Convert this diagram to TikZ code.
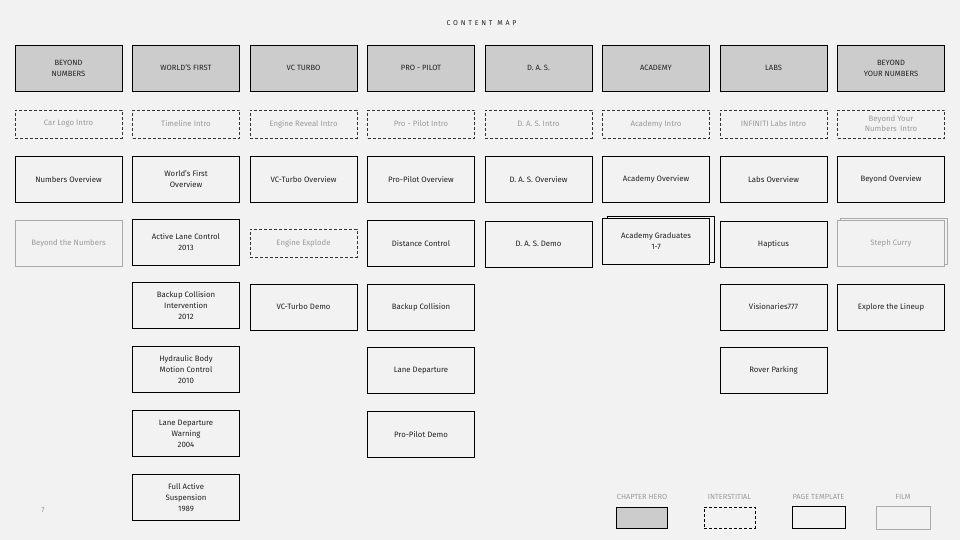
\documentclass[tikz,border=0pt]{standalone}
\usepackage{fontspec}
\setmainfont{Fira Sans}
\definecolor{bgc}{HTML}{F2F2F2}
\definecolor{heroc}{HTML}{CCCCCC}
\definecolor{txtc}{HTML}{222222}
\definecolor{softc}{HTML}{9A9A9A}
\definecolor{filmc}{HTML}{AAAAAA}
\tikzset{
  box/.style={rectangle, minimum width=107pt, minimum height=46pt, inner sep=1pt, align=center, font=\fontsize{7.8}{11}\selectfont, text=txtc},
  hero/.style={box, draw=black, line width=0.9pt, fill=heroc, font=\fontsize{7.6}{11}\selectfont},
  inter/.style={box, minimum height=28pt, draw=black!80, line width=0.7pt, dash pattern=on 3pt off 2pt, text=softc},
  pagebox/.style={box, draw=black, line width=0.9pt, fill=bgc},
  film/.style={box, draw=filmc, line width=0.8pt, fill=bgc, text=softc},
  legendlbl/.style={font=\fontsize{7.4}{8}\selectfont, text=softc},
  legendbox/.style={rectangle, minimum width=51pt, minimum height=21pt, inner sep=0pt}
}
\begin{document}
\begin{tikzpicture}[x=1pt,y=-1pt]
\fill[bgc] (0,0) rectangle (960,540);
\useasboundingbox (0,0) rectangle (960,540);
\node[font=\fontsize{7}{8}\selectfont\addfontfeatures{LetterSpace=40}, text=txtc] (title) at (481.5,23) {CONTENT MAP};
% column centers
\def\ca{68.5}\def\cb{186}\def\cc{303.5}\def\cd{421}\def\ce{538.5}\def\cf{656}\def\cg{773.5}\def\ch{891}
% heroes
\node[hero] (h1) at (\ca,68) {BEYOND\\NUMBERS};
\node[hero] (h2) at (\cb,68) {WORLD'S FIRST};
\node[hero] (h3) at (\cc,68) {VC TURBO};
\node[hero] (h4) at (\cd,68) {PRO - PILOT};
\node[hero] (h5) at (\ce,68) {D. A. S.};
\node[hero] (h6) at (\cf,68) {ACADEMY};
\node[hero] (h7) at (\cg,68) {LABS};
\node[hero] (h8) at (\ch,68) {BEYOND\\YOUR NUMBERS};
% interstitials
\node[inter] (i1) at (\ca,124) {Car Logo Intro};
\node[inter] (i2) at (\cb,124) {Timeline Intro};
\node[inter] (i3) at (\cc,124) {Engine Reveal Intro};
\node[inter] (i4) at (\cd,124) {Pro - Pilot Intro};
\node[inter] (i5) at (\ce,124) {D. A. S. Intro};
\node[inter] (i6) at (\cf,124) {Academy Intro};
\node[inter] (i7) at (\cg,124) {INFINITI Labs Intro};
\node[inter, font=\fontsize{7.8}{10}\selectfont] (i8) at (\ch,124) {Beyond Your\\Numbers\, Intro};
% overviews
\node[pagebox] (o1) at (\ca,179.5) {Numbers Overview};
\node[pagebox] (o2) at (\cb,179.5) {World's First\\Overview};
\node[pagebox] (o3) at (\cc,179.5) {VC-Turbo Overview};
\node[pagebox] (o4) at (\cd,179.5) {Pro-Pilot Overview};
\node[pagebox] (o5) at (\ce,179.5) {D. A. S. Overview};
\node[pagebox] (o6) at (\cf,179.5) {Academy Overview};
\node[pagebox] (o7) at (\cg,179.5) {Labs Overview};
\node[pagebox] (o8) at (\ch,179.5) {Beyond Overview};
% row 4
\node[film] (f1) at (\ca,243.5) {Beyond the Numbers};
\node[pagebox] (r2a) at (\cb,242) {Active Lane Control\\2013};
\node[inter] (r3a) at (\cc,243) {Engine Explode};
\node[pagebox] (r4a) at (\cd,243.5) {Distance Control};
\node[pagebox] (r5a) at (\ce,244) {D. A. S. Demo};
\node[pagebox] (r6back) at (\cf+4.5,239) {};
\node[pagebox] (r6a) at (\cf,241.5) {Academy Graduates\\1-7};
\node[pagebox] (r7a) at (\cg,244) {Hapticus};
\node[film] (f8back) at (\ch+2.5,241) {};
\node[film] (f8) at (\ch,243.5) {Steph Curry};
% row 5
\node[pagebox] (r2b) at (\cb,305.5) {Backup Collision\\Intervention\\2012};
\node[pagebox] (r3b) at (\cc,307) {VC-Turbo Demo};
\node[pagebox] (r4b) at (\cd,307) {Backup Collision};
\node[pagebox] (r7b) at (\cg,307) {Visionaries777};
\node[pagebox] (r8b) at (\ch,307) {Explore the Lineup};
% row 6
\node[pagebox] (r2c) at (\cb,369.5) {Hydraulic Body\\Motion Control\\2010};
\node[pagebox] (r4c) at (\cd,370.5) {Lane Departure};
\node[pagebox] (r7c) at (\cg,370.5) {Rover Parking};
% row 7
\node[pagebox] (r2d) at (\cb,433.5) {Lane Departure\\Warning\\2004};
\node[pagebox] (r4d) at (\cd,434.5) {Pro-Pilot Demo};
% row 8
\node[pagebox] (r2e) at (\cb,497.5) {Full Active\\Suspension\\1989};
% page number
\node[font=\fontsize{7.5}{8}\selectfont, text=softc] (pg) at (43,510) {7};
% legend
\node[legendlbl] (l1) at (642,497) {CHAPTER HERO};
\node[legendlbl] (l2) at (729.5,497) {INTERSTITIAL};
\node[legendlbl] (l3) at (818.5,497) {PAGE TEMPLATE};
\node[legendlbl] (l4) at (903,497) {FILM};
\node[legendbox, draw=black, line width=0.9pt, fill=heroc] (lb1) at (641.5,517.5) {};
\node[legendbox, draw=black, line width=0.8pt, dash pattern=on 3pt off 2pt] (lb2) at (729.5,517.5) {};
\node[legendbox, draw=black, line width=1pt, minimum width=53pt, minimum height=22pt] (lb3) at (818.5,517.5) {};
\node[legendbox, draw=filmc, line width=0.8pt, minimum width=54pt, minimum height=23pt] (lb4) at (903,517.5) {};
\end{tikzpicture}
\end{document}
